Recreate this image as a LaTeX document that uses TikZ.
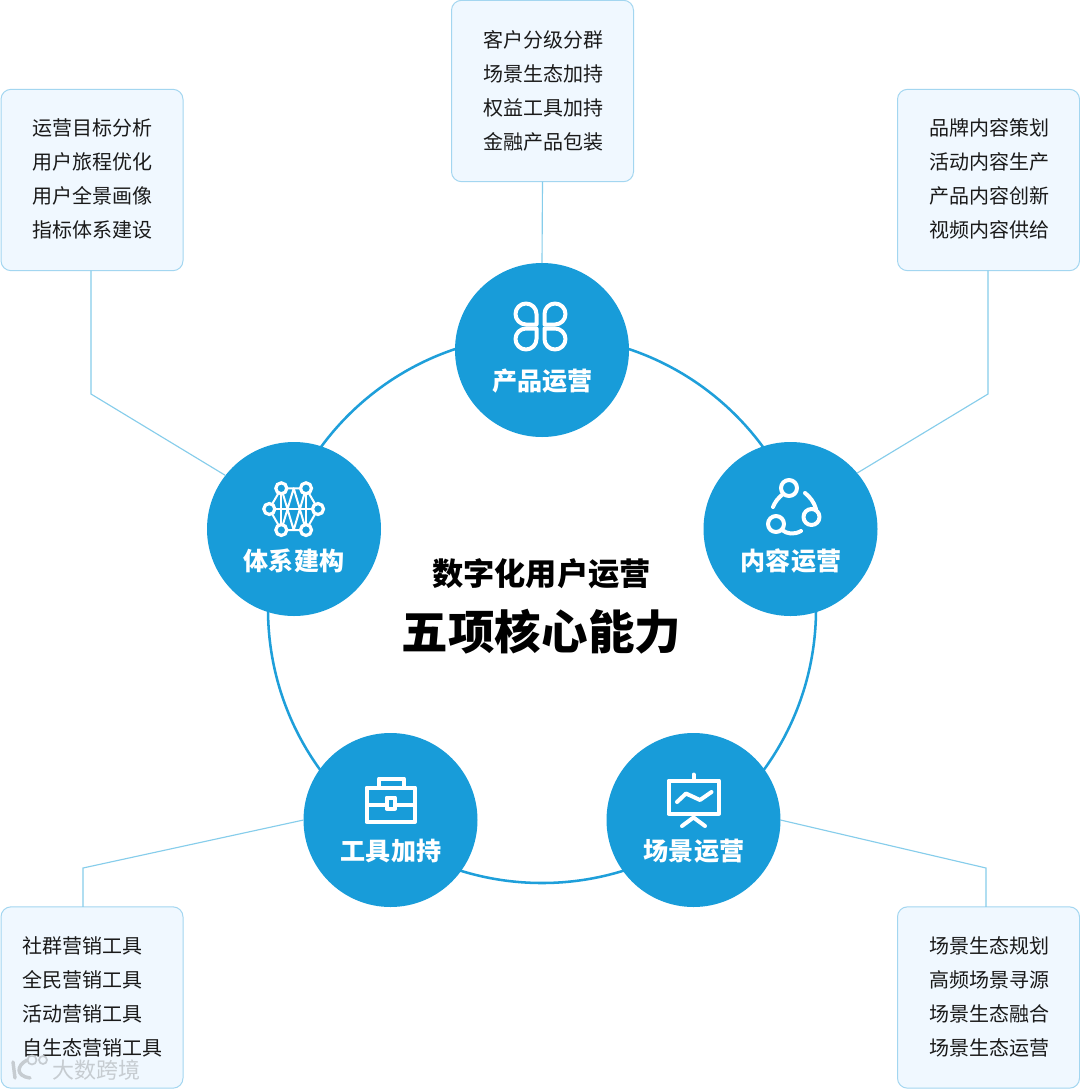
\documentclass[tikz,border=0pt]{standalone}
\usepackage{fontspec}
\setmainfont{Noto Sans CJK SC}
\definecolor{hub}{HTML}{189CD9}
\definecolor{ringc}{HTML}{1E9FDA}
\definecolor{linkc}{HTML}{86CDEB}
\definecolor{boxfill}{HTML}{F0F8FF}
\definecolor{boxline}{HTML}{A3D6F0}
\definecolor{inkc}{HTML}{1A1A1A}
\definecolor{wmark}{HTML}{C6CCD1}
\tikzset{
  hubnode/.style={circle,fill=hub,minimum size=130.5pt,inner sep=0pt,outer sep=0pt},
  hublabel/.style={text=white,font=\fontsize{18.8pt}{22pt}\selectfont\bfseries,inner sep=0pt},
  infobox/.style={draw=boxline,line width=.75pt,fill=boxfill,rounded corners=7.5pt,minimum width=136.5pt,minimum height=136pt,inner sep=0pt,outer sep=0pt},
  boxtext/.style={inner sep=0pt,text=inkc,font=\fontsize{15pt}{25.5pt}\selectfont},
  link/.style={draw=linkc,line width=.85pt},
  ring/.style={draw=ringc,line width=1.9pt},
  icon/.style={draw=white,line width=3pt,line cap=round,line join=round},
  iconthin/.style={draw=white,line width=1.5pt,line cap=round,line join=round},
  iconnode/.style={draw=white,fill=hub,line width=2.4pt},
  wmarkline/.style={draw=wmark,line cap=round}
}
\begin{document}
\begin{tikzpicture}[x=.75pt,y=-.75pt]
\useasboundingbox (0,0) rectangle (1080,1089);
\fill[white] (0,0) rectangle (1080,1089);
% ring
\coordinate (ringc) at (542,609);
\draw[ring] (ringc) circle[radius=205.5pt];
% boxes
\node[infobox] (b1) at (542.5,91) {};
\node[infobox] (b2) at (988.5,180) {};
\node[infobox] (b3) at (988.5,997.5) {};
\node[infobox] (b4) at (92,997.5) {};
\node[infobox] (b5) at (92,180) {};
\node[boxtext,align=center] (x1) at (543,91) {客户分级分群\\场景生态加持\\权益工具加持\\金融产品包装};
\node[boxtext,align=center] (x2) at (989,179) {品牌内容策划\\活动内容生产\\产品内容创新\\视频内容供给};
\node[boxtext,align=center] (x3) at (989,996.5) {场景生态规划\\高频场景寻源\\场景生态融合\\场景生态运营};
\node[boxtext,align=left] (x4) at (92,996.5) {社群营销工具\\全民营销工具\\活动营销工具\\自生态营销工具};
\node[boxtext,align=center] (x5) at (92,179) {运营目标分析\\用户旅程优化\\用户全景画像\\指标体系建设};
% hubs
\node[hubnode] (c1) at (542,350) {};
\node[hubnode] (c2) at (790.5,529) {};
\node[hubnode] (c3) at (693.5,820) {};
\node[hubnode] (c4) at (390.5,820) {};
\node[hubnode] (c5) at (294,529) {};
% connectors
\coordinate (e2) at (988,394);
\coordinate (e3) at (986,868);
\coordinate (e4) at (83,868);
\coordinate (e5) at (91,394);
\draw[link] (b1.south) -- (c1.north);
\draw[link] (b2.south -| e2) -- (e2) -- (c2.40);
\draw[link] (b3.north -| e3) -- (e3) -- (c3.east);
\draw[link] (b4.north -| e4) -- (e4) -- (c4.west);
\draw[link] (b5.south -| e5) -- (e5) -- (c5.142);
% hub labels
\node[hublabel] (l1) at (542.5,381) {产品运营};
\node[hublabel] (l2) at (791,561) {内容运营};
\node[hublabel] (l3) at (694,851) {场景运营};
\node[hublabel] (l4) at (391,851) {工具加持};
\node[hublabel] (l5) at (294,561) {体系建构};
% centre title
\node[inner sep=0pt,text=black,font=\fontsize{23.4pt}{28pt}\selectfont\bfseries] (t1) at (541.5,574) {数字化用户运营};
\node[inner sep=0pt,text=black,font=\fontsize{34.9pt}{40pt}\selectfont\bfseries] (t2) at (541.5,632) {五项核心能力};
% icon: product
\draw[icon] (536.5,324.5) -- (526,324.5) arc[start angle=90,end angle=360,radius=10.5] -- cycle;
\draw[icon] (544.5,324.5) -- (555,324.5) arc[start angle=90,end angle=-180,radius=10.5] -- cycle;
\draw[icon] (536.5,328.5) -- (526,328.5) arc[start angle=270,end angle=0,radius=10.5] -- cycle;
\draw[icon] (544.5,328.5) -- (555,328.5) arc[start angle=270,end angle=540,radius=10.5] -- cycle;
% icon: content
\draw[icon] (789,488) circle[radius=8];
\draw[icon] (811.5,517) circle[radius=8];
\draw[icon] (776,524) circle[radius=8];
\draw[icon] (783,494) .. controls (778,498) and (775,502) .. (773,507);
\draw[icon] (805,493) .. controls (810,497) and (814,502) .. (816,509);
\draw[icon] (782,530) .. controls (787,534) and (794,535) .. (801,531);
% icon: scene
\draw[icon] (668.5,780.5) rectangle (719,813.5);
\draw[icon] (693.5,774.5) -- (693.5,780.5);
\draw[icon] (682,826) -- (693.5,817.5) -- (705,826);
\draw[icon] (677,802) -- (686,793.5) -- (700,800) -- (711.5,792);
% icon: tool
\draw[icon,line cap=butt,line join=round] (379,787) -- (379,778.5) -- (404,778.5) -- (404,787);
\draw[icon,line cap=butt,line join=round] (366.5,787.5) rectangle (415,822);
\draw[icon,line cap=butt] (366.5,805) -- (415,805);
\draw[icon,line cap=butt,line join=round,fill=hub] (386.5,797.5) rectangle (395,808.5);
% icon: system
\coordinate (n1) at (281.3,488.3);
\coordinate (n2) at (306,488.3);
\coordinate (n3) at (269.3,509);
\coordinate (n4) at (318,509);
\coordinate (n5) at (281.3,530);
\coordinate (n6) at (306,530);
\coordinate (m1) at (293.7,488.3);
\coordinate (m2) at (293.7,530);
\draw[iconthin] (n1) -- (n2) -- (n4) -- (n6) -- (n5) -- (n3) -- cycle;
\draw[iconthin] (n3) -- (n4);
\draw[iconthin] (n1) -- (n5) (n2) -- (n6);
\draw[iconthin] (n1) -- (m2) -- (n2) (n5) -- (m1) -- (n6);
\foreach \p in {n1,n2,n3,n4,n5,n6} \draw[iconnode] (\p) circle[radius=5.5];
% watermark
\draw[wmarkline,line width=2.6pt] (13,1062) -- (15,1078);
\draw[wmarkline,line width=2.6pt] (27,1060) .. controls (16,1066) and (16,1076) .. (30,1078);
\draw[wmarkline,line width=1.3pt] (32,1060) circle[radius=4.5] (43,1060) circle[radius=4];
\node[inner sep=0pt,text=wmark,font=\fontsize{16.5pt}{20pt}\selectfont] (wm) at (96,1070) {大数跨境};
\end{tikzpicture}
\end{document}
